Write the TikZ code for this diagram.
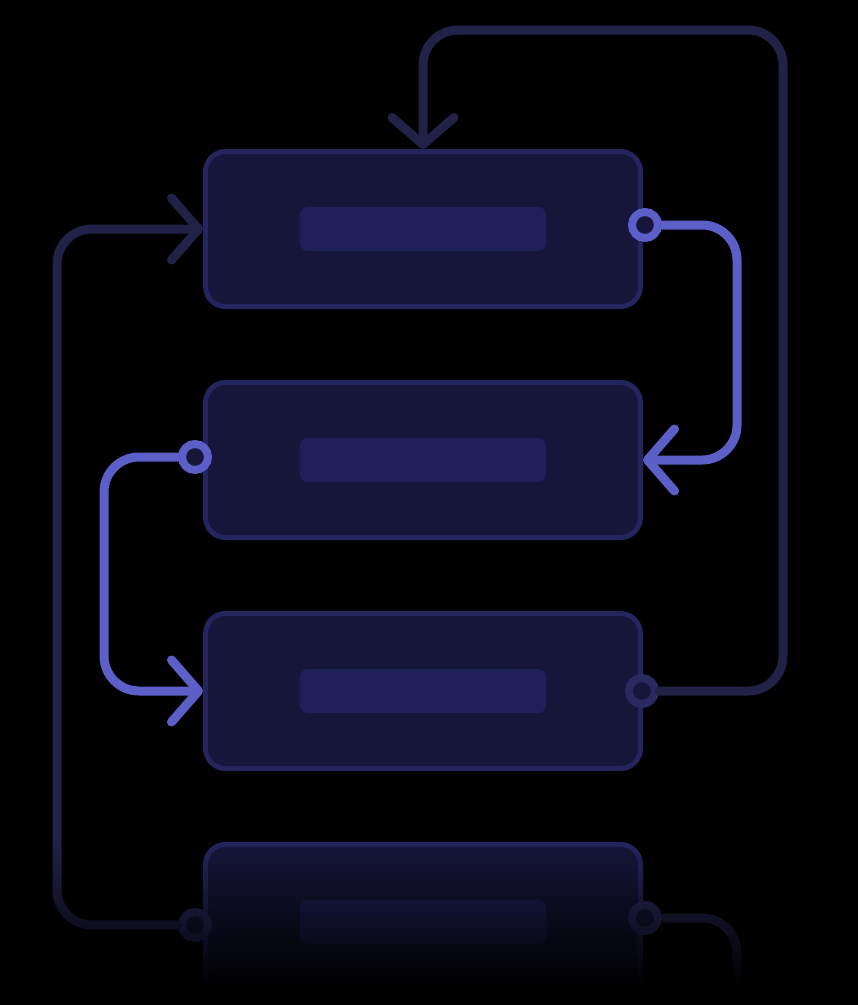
\documentclass[tikz,border=0pt]{standalone}
\usetikzlibrary{arrows.meta}

\definecolor{boxfill}{HTML}{16163A}
\definecolor{boxline}{HTML}{24245F}
\definecolor{barfill}{HTML}{1F2058}
\definecolor{linkdim}{HTML}{222249}
\definecolor{portdim}{HTML}{2A2A60}
\definecolor{linkhot}{HTML}{5C5FC8}

\tikzset{
	card/.style={draw=boxline, fill=boxfill, line width=5pt, rounded corners=20pt, minimum width=435pt, minimum height=155pt, inner sep=0pt},
	bar/.style={fill=barfill, rounded corners=8pt, minimum width=246pt, minimum height=44pt, inner sep=0pt},
	port/.style={circle, line width=8pt, fill=boxfill, minimum size=26pt, inner sep=0pt},
	link/.style={line width=9pt, rounded corners=35pt, line cap=round, -{Straight Barb[length=27pt,width=62pt,round]}}
}

\begin{document}
\begin{tikzpicture}[x=1pt, y=-1pt]
	\fill[black] (0,0) rectangle (858,1005);

	\foreach \n/\y in {b1/229, b2/460, b3/691, b4/922}{
		\node[card] (\n) at (423,\y) {};
		\node[bar] (\n-bar) at (\n) {};
	}

	\node[port, draw=linkhot] (p1) at (645,225) {};
	\node[port, draw=linkhot] (p2) at (195,457) {};
	\node[port, draw=portdim] (p3) at (642,691) {};
	\node[port, draw=portdim] (p4l) at (195,925) {};
	\node[port, draw=portdim] (p4r) at (645,918) {};

	\draw[link, linkhot] (p1) -- (737,225) |- (b2.east);
	\draw[link, linkhot] (p2) -| (104,691) -- (b3.west);
	\draw[link, linkdim] (p3) -| (783,30) -| (b1.north);
	\draw[link, linkdim] (p4l) -| (57,229) -- (b1.west);
	\draw[linkdim, line width=9pt, rounded corners=35pt] (p4r) -| (737,1000);

	% fade the last card out
	\foreach \i [evaluate=\i as \a using \i/37] in {0,...,37}
		\fill[black, opacity=\a] (0,840+4*\i) rectangle (858,844+4*\i);
	\fill[black] (0,990) rectangle (858,1005);
\end{tikzpicture}
\end{document}
